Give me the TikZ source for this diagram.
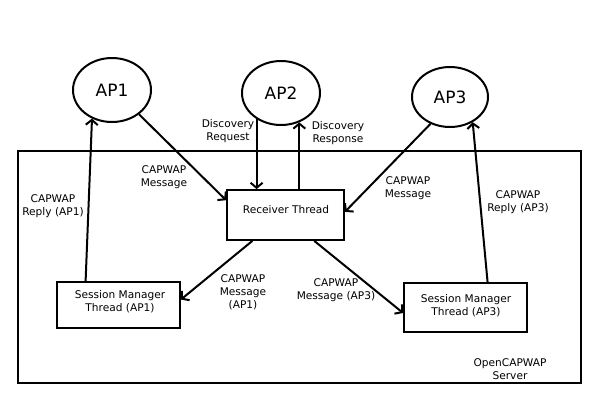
\documentclass[tikz,border=0pt]{standalone}
\usepackage{fontspec}
\setmainfont{DejaVu Sans}
\usetikzlibrary{arrows.meta,shapes.geometric}
\begin{document}
\begin{tikzpicture}[x=1pt,y=-1pt,
  ap/.style={draw,line width=2pt,ellipse,minimum width=78pt,minimum height=64pt,inner sep=0pt,font=\fontsize{17}{20}\selectfont},
  box/.style={draw,line width=1.8pt,rectangle,inner sep=0pt,align=center,font=\fontsize{10.6}{13}\selectfont},
  lbl/.style={align=center,font=\fontsize{10.6}{12.8}\selectfont,inner sep=0pt},
  arr/.style={line width=2pt,-{Straight Barb[length=5pt,width=12pt]}}]
\useasboundingbox (0,0) rectangle (600,400);
\node[draw,line width=2pt,minimum width=563pt,minimum height=232pt,inner sep=0pt] (srv) at (299.5,267) {};
\node[ap] (ap1) at (112,90) {AP1};
\node[ap] (ap2) at (281,93) {AP2};
\node[ap,minimum width=76pt,minimum height=60pt] (ap3) at (450,97) {AP3};
\node[box,minimum width=117pt,minimum height=50pt] (rt) at (285.5,215) {};
\node[lbl,font=\fontsize{10.6}{13}\selectfont] (rtt) at (286,210) {Receiver Thread};
\node[box,minimum width=123pt,minimum height=46pt] (sm1) at (118.5,305) {};
\node[lbl,font=\fontsize{10.6}{13}\selectfont] (sm1t) at (120,302) {Session Manager\\Thread (AP1)};
\node[box,minimum width=123pt,minimum height=49pt] (sm3) at (465.5,307.5) {};
\node[lbl,font=\fontsize{10.6}{13}\selectfont] (sm3t) at (466,306) {Session Manager\\Thread (AP3)};
\draw[arr] (ap1.-42) -- (rt.166);
\draw[arr] (sm1.144) -- (ap1.-125);
\draw[arr] (ap2.-133) -- (ap2.-133 |- rt.north);
\draw[arr] (ap2.-58 |- rt.north) -- (ap2.-58);
\draw[arr] (ap3.-126) -- (rt.3);
\draw[arr] (sm3.49) -- (ap3.-48);
\draw[arr] (rt.-142) -- (sm1.5);
\draw[arr] (rt.-42) -- (sm3.-175);
\node[lbl] (l1) at (164,177) {CAPWAP\\Message};
\node[lbl] (l2) at (53,206) {CAPWAP\\Reply (AP1)};
\node[lbl] (l3) at (228,131) {Discovery\\Request};
\node[lbl] (l4) at (338,133) {Discovery\\Response};
\node[lbl] (l5) at (408,188) {CAPWAP\\Message};
\node[lbl] (l6) at (518,202) {CAPWAP\\Reply (AP3)};
\node[lbl] (l7) at (243,292) {CAPWAP\\Message\\(AP1)};
\node[lbl] (l8) at (336,290) {CAPWAP\\Message (AP3)};
\node[lbl] (l9) at (510,369) {OpenCAPWAP\\Server};
\end{tikzpicture}
\end{document}
